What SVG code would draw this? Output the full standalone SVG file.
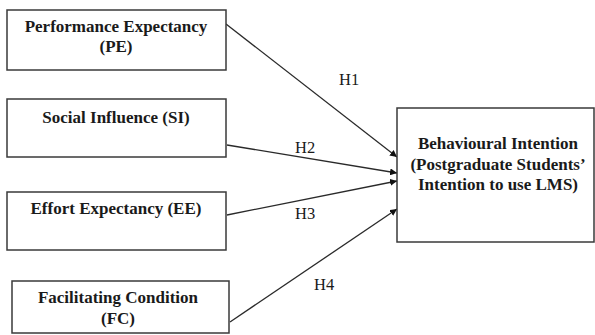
<svg xmlns="http://www.w3.org/2000/svg" width="595" height="335" viewBox="0 0 595 335">
<style>
.box{fill:#fff;stroke:#3a3a3a;stroke-width:1.5}
.t{font-family:"Liberation Serif","Times New Roman",serif;font-weight:bold;font-size:17px;fill:#1a1a1a;text-anchor:middle}
.h{font-family:"Liberation Serif","Times New Roman",serif;font-size:16.5px;fill:#1a1a1a}
.c{stroke:#2a2a2a;stroke-width:1.3;fill:none;marker-end:url(#arr)}
</style>
<defs>
<marker id="arr" viewBox="0 0 10 10" refX="10" refY="5" markerWidth="7" markerHeight="7" orient="auto" markerUnits="userSpaceOnUse">
<path d="M0,0 L10,5 L0,10 z" fill="#111"/>
</marker>
</defs>
<rect width="595" height="335" fill="#fff"/>
<g id="connectors">
<line class="c" x1="226" y1="24" x2="397" y2="157"/>
<line class="c" x1="227" y1="145" x2="397" y2="173"/>
<line class="c" x1="227" y1="215" x2="397" y2="181"/>
<line class="c" x1="230" y1="322" x2="397" y2="209"/>
<text class="h" x="339" y="85">H1</text>
<text class="h" x="295" y="153">H2</text>
<text class="h" x="295" y="219">H3</text>
<text class="h" x="314" y="290">H4</text>
</g>
<g id="pe">
<rect class="box" x="7" y="10" width="219" height="60"/>
<text class="t" x="116" y="32">Performance Expectancy</text>
<text class="t" x="116" y="52">(PE)</text>
</g>
<g id="si">
<rect class="box" x="7" y="99" width="219" height="58"/>
<text class="t" x="116" y="123">Social Influence (SI)</text>
</g>
<g id="ee">
<rect class="box" x="7" y="192" width="219" height="58"/>
<text class="t" x="116" y="214">Effort Expectancy (EE)</text>
</g>
<g id="fc">
<rect class="box" x="12" y="281" width="217" height="52"/>
<text class="t" x="118" y="303">Facilitating Condition</text>
<text class="t" x="118" y="324">(FC)</text>
</g>
<g id="bi">
<rect class="box" x="397" y="108" width="197" height="134"/>
<text class="t" x="498" y="149">Behavioural Intention</text>
<text class="t" x="498" y="170">(Postgraduate Students’</text>
<text class="t" x="498" y="190">Intention to use LMS)</text>
</g>
</svg>
